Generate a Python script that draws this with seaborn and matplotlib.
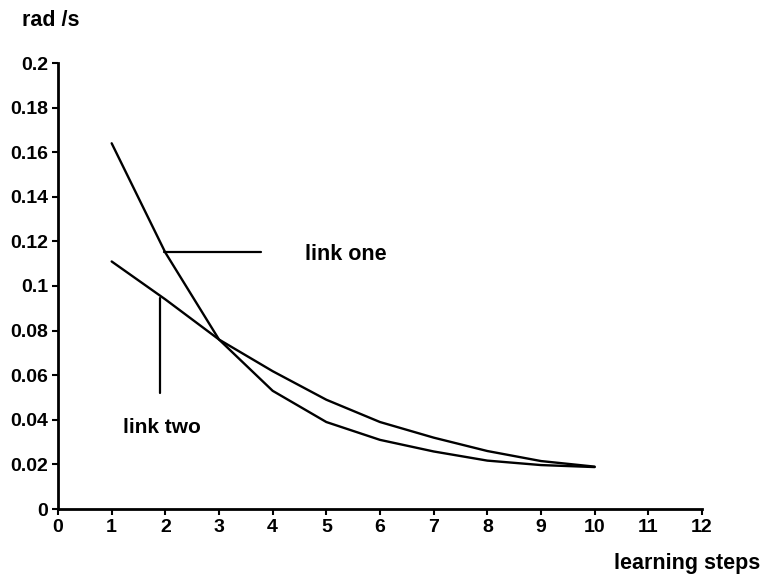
import matplotlib
matplotlib.use("Agg")
import matplotlib.pyplot as plt
import seaborn as sns
import pandas as pd

steps = [1, 2, 3, 4, 5, 6, 7, 8, 9, 10]
link_one = [0.164, 0.115, 0.076, 0.053, 0.039, 0.031, 0.0258, 0.0217, 0.0197, 0.0188]
link_two = [0.111, 0.094, 0.076, 0.0618, 0.049, 0.039, 0.032, 0.026, 0.0215, 0.019]
x_ticks = list(range(0, 13))
y_ticks = [0, 0.02, 0.04, 0.06, 0.08, 0.1, 0.12, 0.14, 0.16, 0.18, 0.2]
y_tick_labels = ["0", "0.02", "0.04", "0.06", "0.08", "0.1", "0.12", "0.14", "0.16", "0.18", "0.2"]

df = pd.DataFrame({
    "step": steps * 2,
    "value": link_one + link_two,
    "link": ["link one"] * len(steps) + ["link two"] * len(steps),
})

sns.set_style("ticks")
plt.rcParams["font.family"] = ["Liberation Sans", "DejaVu Sans"]
plt.rcParams["text.color"] = "black"

fig = plt.figure(figsize=(7.61, 5.79), dpi=100)
ax = fig.add_axes([58 / 761, 70 / 579, (702 - 58) / 761, (509 - 63) / 579])

sns.lineplot(data=df, x="step", y="value", hue="link",
             palette={"link one": "black", "link two": "black"},
             linewidth=1.7, legend=False, ax=ax)

ax.set_xlim(0, 12)
ax.set_ylim(0, 0.2)
ax.set_xticks(x_ticks)
ax.set_xticklabels([str(t) for t in x_ticks])
ax.set_yticks(y_ticks)
ax.set_yticklabels(y_tick_labels)
ax.tick_params(axis="both", direction="out", length=4, width=1.5,
               labelsize=14, colors="black", pad=3)
for lbl in ax.get_xticklabels() + ax.get_yticklabels():
    lbl.set_fontweight("bold")
for side in ["top", "right"]:
    ax.spines[side].set_visible(False)
for side in ["left", "bottom"]:
    ax.spines[side].set_linewidth(2)
    ax.spines[side].set_color("black")
ax.set_xlabel("")
ax.set_ylabel("")

# annotation leaders
ax.plot([1.97, 3.78], [0.1152, 0.1152], color="black", lw=1.6)
ax.text(4.6, 0.114, "link one", fontsize=15.5, fontweight="bold", va="center", ha="left", color="black")
ax.plot([1.9, 1.9], [0.0945, 0.052], color="black", lw=1.6)
ax.text(1.21, 0.0365, "link two", fontsize=15, fontweight="bold", va="center", ha="left", color="black")

fig.text(22 / 761, 1 - 21 / 579, "rad /s", fontsize=15.5, fontweight="bold", va="center", ha="left", color="black")
fig.text(760 / 761, 1 - 564 / 579, "learning steps", fontsize=15.5, fontweight="bold", va="center", ha="right", color="black")

fig.savefig("out.png", dpi=100)
